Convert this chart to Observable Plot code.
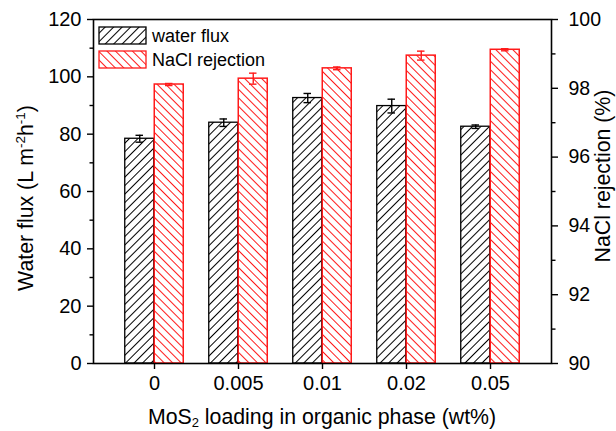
<!DOCTYPE html>
<html>
<head>
<meta charset="utf-8">
<script src="https://cdn.jsdelivr.net/npm/d3@7"></script>
<script src="https://cdn.jsdelivr.net/npm/@observablehq/plot@0.6"></script>
<style>
  html, body { margin: 0; padding: 0; background: #fff; }
</style>
</head>
<body>
<div id="chart"></div>
<script>
// ---- Data ----
const categories = ["0", "0.005", "0.01", "0.02", "0.05"];
const waterFlux = [78.4, 84.0, 92.6, 89.8, 82.6];
const waterFluxErr = [1.2, 1.3, 1.6, 2.4, 0.6];
const rejection = [98.11, 98.28, 98.58, 98.95, 99.12];
const rejectionErr = [0.03, 0.16, 0.04, 0.13, 0.03];
const leftTicks = [0, 20, 40, 60, 80, 100, 120];
const leftMinor = [10, 30, 50, 70, 90, 110];
const rightTicks = [90, 92, 94, 96, 98, 100];
const rightMinor = [91, 93, 95, 97, 99];

// map right-axis (%) values onto the left-axis domain
const rMin = 90, rMax = 100, lMax = 120;
const toLeft = v => (v - rMin) / (rMax - rMin) * lMax;
const fromLeft = v => v / lMax * (rMax - rMin) + rMin;

const rows = categories.map((c, i) => ({
  c,
  flux: waterFlux[i],
  fluxLo: waterFlux[i] - waterFluxErr[i],
  fluxHi: waterFlux[i] + waterFluxErr[i],
  rej: toLeft(rejection[i]),
  rejLo: toLeft(rejection[i] - rejectionErr[i]),
  rejHi: toLeft(rejection[i] + rejectionErr[i])
}));

// ---- Layout ----
const W = 616, H = 431;
const mL = 93, mR = 65, mT = 19, mB = 68;
const padOuter = 0.21;
const step = (W - mL - mR) / (categories.length + 2 * padOuter);
const bw = 29.5;           // bar width
const half = step / 2;
const capW = 8;
const RED = "#ff1a1a";

const font = "'Liberation Sans', Arial, sans-serif";

const svg = Plot.plot({
  width: W, height: H,
  marginLeft: mL, marginRight: mR, marginTop: mT, marginBottom: mB,
  style: { fontFamily: font, fontSize: "20px", color: "#000", background: "#fff" },
  x: { type: "band", domain: categories, paddingInner: 0, paddingOuter: padOuter },
  y: { domain: [0, lMax] },
  marks: [
    Plot.barY(rows, { x: "c", y: "flux", fill: "url(#hatchBlack)", stroke: "#000", strokeWidth: 1.3,
      insetLeft: half - bw, insetRight: half }),
    Plot.barY(rows, { x: "c", y: "rej", fill: "url(#hatchRed)", stroke: RED, strokeWidth: 1.5,
      insetLeft: half, insetRight: half - bw }),
    Plot.ruleX(rows, { x: "c", y1: "fluxLo", y2: "fluxHi", dx: -bw / 2, stroke: "#000", strokeWidth: 1.4 }),
    Plot.tickY(rows, { x: "c", y: "fluxLo", stroke: "#000", strokeWidth: 1.4,
      insetLeft: half - bw / 2 - capW / 2, insetRight: half + bw / 2 - capW / 2 }),
    Plot.tickY(rows, { x: "c", y: "fluxHi", stroke: "#000", strokeWidth: 1.4,
      insetLeft: half - bw / 2 - capW / 2, insetRight: half + bw / 2 - capW / 2 }),
    Plot.ruleX(rows, { x: "c", y1: "rejLo", y2: "rejHi", dx: bw / 2, stroke: RED, strokeWidth: 1.4 }),
    Plot.tickY(rows, { x: "c", y: "rejLo", stroke: RED, strokeWidth: 1.4,
      insetLeft: half + bw / 2 - capW / 2, insetRight: half - bw / 2 - capW / 2 }),
    Plot.tickY(rows, { x: "c", y: "rejHi", stroke: RED, strokeWidth: 1.4,
      insetLeft: half + bw / 2 - capW / 2, insetRight: half - bw / 2 - capW / 2 }),
    Plot.axisY({ ticks: leftTicks, anchor: "left", tickSize: 6, tickPadding: 6, label: null, strokeWidth: 1.4 }),
    Plot.axisY({ ticks: leftMinor, anchor: "left", tickSize: 3.5, tickFormat: () => "", label: null, strokeWidth: 1.4 }),
    Plot.axisY({ ticks: rightTicks.map(toLeft), anchor: "right", tickSize: 6, tickPadding: 11,
      tickFormat: d => String(Math.round(fromLeft(d))), label: null, strokeWidth: 1.4, fontSize: 19.5 }),
    Plot.axisY({ ticks: rightMinor.map(toLeft), anchor: "right", tickSize: 3.5, tickFormat: () => "", label: null, strokeWidth: 1.4 }),
    Plot.axisX({ anchor: "bottom", tickSize: 6, tickPadding: 6, label: null, strokeWidth: 1.4 }),
    Plot.frame({ stroke: "#000", strokeWidth: 1.6 })
  ]
});

// ---- hatch patterns ----
const s = d3.select(svg);
const defs = s.insert("defs", ":first-child");
function hatch(id, color, angle) {
  const sp = 6;
  const p = defs.append("pattern").attr("id", id)
    .attr("patternUnits", "userSpaceOnUse")
    .attr("width", sp).attr("height", sp)
    .attr("patternTransform", `rotate(${angle})`);
  p.append("rect").attr("width", sp).attr("height", sp).attr("fill", "#fff");
  p.append("line").attr("x1", sp / 2).attr("y1", -1).attr("x2", sp / 2).attr("y2", sp + 1)
    .attr("stroke", color).attr("stroke-width", 1).attr("shape-rendering", "crispEdges");
}
hatch("hatchBlack", "#000", 45);
hatch("hatchRed", RED, -45);

// ---- legend ----
const lg = s.append("g").attr("font-family", font).attr("font-size", "18px").attr("fill", "#000").attr("text-anchor", "start");
[["water flux", "url(#hatchBlack)", "#000", 27], ["NaCl rejection", "url(#hatchRed)", RED, 51]].forEach(([t, f, st, y]) => {
  lg.append("rect").attr("x", 99).attr("y", y).attr("width", 47).attr("height", 17)
    .attr("fill", f).attr("stroke", st).attr("stroke-width", 1.3);
  lg.append("text").attr("x", 152).attr("y", y + 8.5).attr("dy", "0.35em").text(t);
});

// ---- axis titles ----
const tg = s.append("g").attr("font-family", font).attr("font-size", "21.3px").attr("fill", "#000").attr("text-anchor", "middle");
const lt = tg.append("text").attr("transform", "translate(32.5,198) rotate(-90)");
lt.append("tspan").text("Water flux (L m");
lt.append("tspan").attr("dy", -8).attr("font-size", "13.5px").text("-2");
lt.append("tspan").attr("dy", 8).text("h");
lt.append("tspan").attr("dy", -8).attr("font-size", "13.5px").text("-1");
lt.append("tspan").attr("dy", 8).text(")");

tg.append("text").attr("transform", "translate(610,176) rotate(-90)").text("NaCl rejection (%)");

const bt = tg.append("text").attr("x", 322).attr("y", 424);
bt.append("tspan").text("MoS");
bt.append("tspan").attr("dy", 3).attr("font-size", "13px").text("2");
bt.append("tspan").attr("dy", -3).text(" loading in organic phase (wt%)");

document.getElementById("chart").appendChild(svg);
</script>
</body>
</html>
